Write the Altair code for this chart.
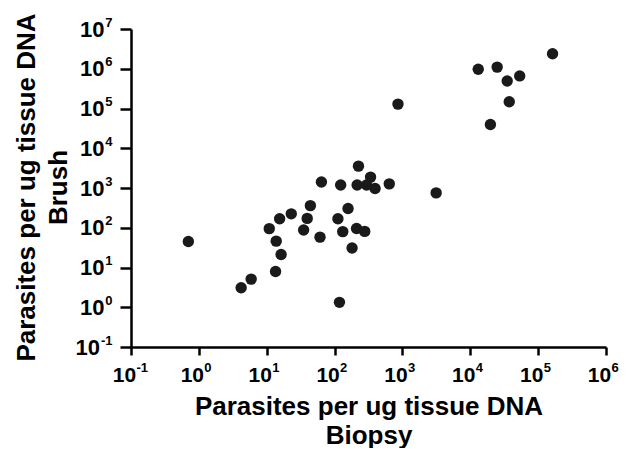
import altair as alt
import pandas as pd

# Biopsy (x) and Brush (y) parasite loads
biopsy = [0.70, 4.2, 5.9, 13.5, 10.9, 13.8, 16.3, 15.5, 23, 35, 39.5, 44,
          61, 64, 112, 123, 132, 158, 181, 118, 211, 278, 225, 215, 296,
          339, 395, 640, 860, 3140, 13100, 24900, 35000, 53500, 37500,
          19800, 163000]
brush = [45, 3.1, 5.1, 7.9, 95, 46, 21.2, 168, 224, 88, 172, 360,
         58, 1410, 168, 1190, 80, 306, 31, 1.33, 96, 81, 3550, 1190, 1190,
         1880, 970, 1270, 129000, 753, 970000, 1100000, 490000, 660000, 148000,
         39600, 2380000]

x_ticks = [0.1, 1, 10, 100, 1000, 10000, 100000, 1000000]
x_exponents = ["-1", "0", "1", "2", "3", "4", "5", "6"]
y_ticks = [0.1, 1, 10, 100, 1000, 10000, 100000, 1000000, 10000000]
y_exponents = ["-1", "0", "1", "2", "3", "4", "5", "6", "7"]

x_title = ["Parasites per ug tissue DNA", "Biopsy"]
y_title = ["Parasites per ug tissue DNA", "Brush"]

df = pd.DataFrame({"Biopsy": biopsy, "Brush": brush})


def exp_expr(vals, labels):
    expr = "''"
    for v, l in zip(reversed(vals), reversed(labels)):
        expr = f"abs(datum.value - {v}) < {v}*0.01 ? '{l}' : ({expr})"
    return expr


FONT = "Liberation Sans"
xscale = alt.Scale(type="log", domain=[0.1, 1000000], nice=False)
yscale = alt.Scale(type="log", domain=[0.1, 10000000], nice=False)

common = dict(grid=False, labelFlush=False, labelOverlap=False, labelBound=False,
              labelFont=FONT, labelFontWeight="bold", labelColor="black")

# main axes: "10" labels, ticks, domain, titles
x_main = alt.Axis(values=x_ticks, labelExpr="'10'", orient="bottom",
                  labelFontSize=21, tickSize=8, labelPadding=9, labelOffset=-7,
                  labelAlign="center", labelBaseline="top",
                  title=x_title, titleBaseline="top", titleY=46, titleX=237.5,
                  titleLineHeight=29,
                  **common)
y_main = alt.Axis(values=y_ticks, labelExpr="'10'", orient="left",
                  labelFontSize=22, tickSize=11,
                  labelPadding={"condition": {"test": "datum.value < 0.5", "value": 20.5},
                                "value": 16},
                  labelAlign="right", labelBaseline="middle",
                  title=y_title, titleBaseline="top", titleX=-118, titleY=158,
                  titleAngle=-90, titleLineHeight=32,
                  **common)
# exponent axes: superscripts only
x_exp = alt.Axis(values=x_ticks, labelExpr=exp_expr(x_ticks, x_exponents), orient="bottom",
                 labelFontSize=13, tickSize=8, tickOpacity=0, domain=False,
                 labelPadding=6, labelOffset=5, labelAlign="left", labelBaseline="top",
                 title=None, **common)
y_exp = alt.Axis(values=y_ticks, labelExpr=exp_expr(y_ticks, y_exponents), orient="left",
                 labelFontSize=13, tickSize=11, tickOpacity=0, domain=False,
                 labelPadding=8, labelOffset=-7, labelAlign="right", labelBaseline="middle",
                 title=None, **common)

points = alt.Chart(df).mark_circle(size=130, color="#1a1a1a", opacity=1).encode(
    x=alt.X("Biopsy:Q", scale=xscale, axis=x_main),
    y=alt.Y("Brush:Q", scale=yscale, axis=y_main),
)
exps = alt.Chart(df).mark_circle(size=130, opacity=0).encode(
    x=alt.X("Biopsy:Q", scale=xscale, axis=x_exp),
    y=alt.Y("Brush:Q", scale=yscale, axis=y_exp),
)

chart = alt.layer(points, exps).resolve_axis(x="independent", y="independent").properties(
    width=475, height=318,
    autosize=alt.AutoSizeParams(type="none"),
    padding={"left": 123, "top": 21, "right": 16, "bottom": 101},
).configure_view(
    stroke=None
).configure_axis(
    domainColor="black", domainWidth=2.5, tickColor="black", tickWidth=2.5,
    titleFont=FONT, titleFontSize=26, titleFontWeight="bold", titleColor="black",
)

chart.save("out.html", embed_options={"renderer": "svg", "actions": False})
